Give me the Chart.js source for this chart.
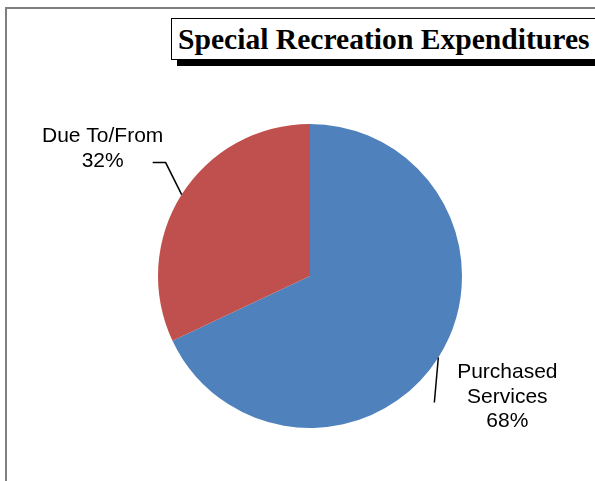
<!DOCTYPE html>
<html>
<head>
<meta charset="utf-8">
<script src="https://cdn.jsdelivr.net/npm/chart.js@4.4.0/dist/chart.umd.min.js"></script>
<style>
  html, body { margin: 0; padding: 0; width: 595px; height: 481px; overflow: hidden; background: #fff; }
  #frame { position: absolute; left: 5px; top: 7px; width: 700px; height: 600px; border: 2px solid #7f7f7f; box-sizing: border-box; }
  #titleShadow { position: absolute; left: 177px; top: 24px; width: 600px; height: 42px; background: #000; }
  #titleBox { position: absolute; left: 171px; top: 18px; width: 600px; height: 42px; background: #fff;
    border: 1px solid #000; box-sizing: border-box; font: bold 29.6px "Liberation Serif", "Times New Roman", serif;
    line-height: 40px; padding-left: 6px; color: #000; white-space: nowrap; }
  #pie { position: absolute; left: 0; top: 0; }
</style>
</head>
<body>
<div id="frame"></div>
<div id="titleShadow"></div>
<div id="titleBox">Special Recreation Expenditures</div>
<canvas id="pie" width="595" height="481"></canvas>
<script>
var categories = ["Purchased Services", "Due To/From"];
var labelLines = [["Purchased", "Services"], ["Due To/From"]];
var shares = [68, 32];
var colors = ["#4F81BD", "#C0504D"];

// leader line + label placement, relative to the slice's outer mid point
var leaders = [
    { elbow: [-4, 45], end: [-4, 45], text: [69, 15] },
    { elbow: [-16, -32], end: [-29, -32], text: [-79, -58] }
];

var pieLabels = {
    id: "pieLabels",
    afterDatasetsDraw: function(chart) {
        var ctx = chart.ctx;
        var meta = chart.getDatasetMeta(0);
        ctx.save();
        meta.data.forEach(function(arc, i) {
            var mid = (arc.startAngle + arc.endAngle) / 2;
            var ex = arc.x + Math.cos(mid) * arc.outerRadius;
            var ey = arc.y + Math.sin(mid) * arc.outerRadius;
            var l = leaders[i];
            ctx.strokeStyle = "#000";
            ctx.lineWidth = 1.5;
            ctx.beginPath();
            ctx.moveTo(ex, ey);
            ctx.lineTo(ex + l.elbow[0], ey + l.elbow[1]);
            ctx.lineTo(ex + l.end[0], ey + l.end[1]);
            ctx.stroke();

            var lines = labelLines[i].concat([shares[i] + "%"]);
            ctx.fillStyle = "#000";
            ctx.font = "21px 'Liberation Sans', Arial, sans-serif";
            ctx.textAlign = "center";
            ctx.textBaseline = "middle";
            lines.forEach(function(t, k) {
                ctx.fillText(t, ex + l.text[0], ey + l.text[1] + k * 24.5);
            });
        });
        ctx.restore();
    }
};

new Chart(document.getElementById("pie"), {
    type: "pie",
    data: {
        labels: categories,
        datasets: [{
            data: shares,
            backgroundColor: colors,
            borderWidth: 0
        }]
    },
    options: {
        responsive: false,
        animation: false,
        layout: { padding: { left: 158, right: 133, top: 124, bottom: 53 } },
        plugins: {
            legend: { display: false },
            tooltip: { enabled: false },
            title: { display: false }
        }
    },
    plugins: [pieLabels]
});
</script>
</body>
</html>
